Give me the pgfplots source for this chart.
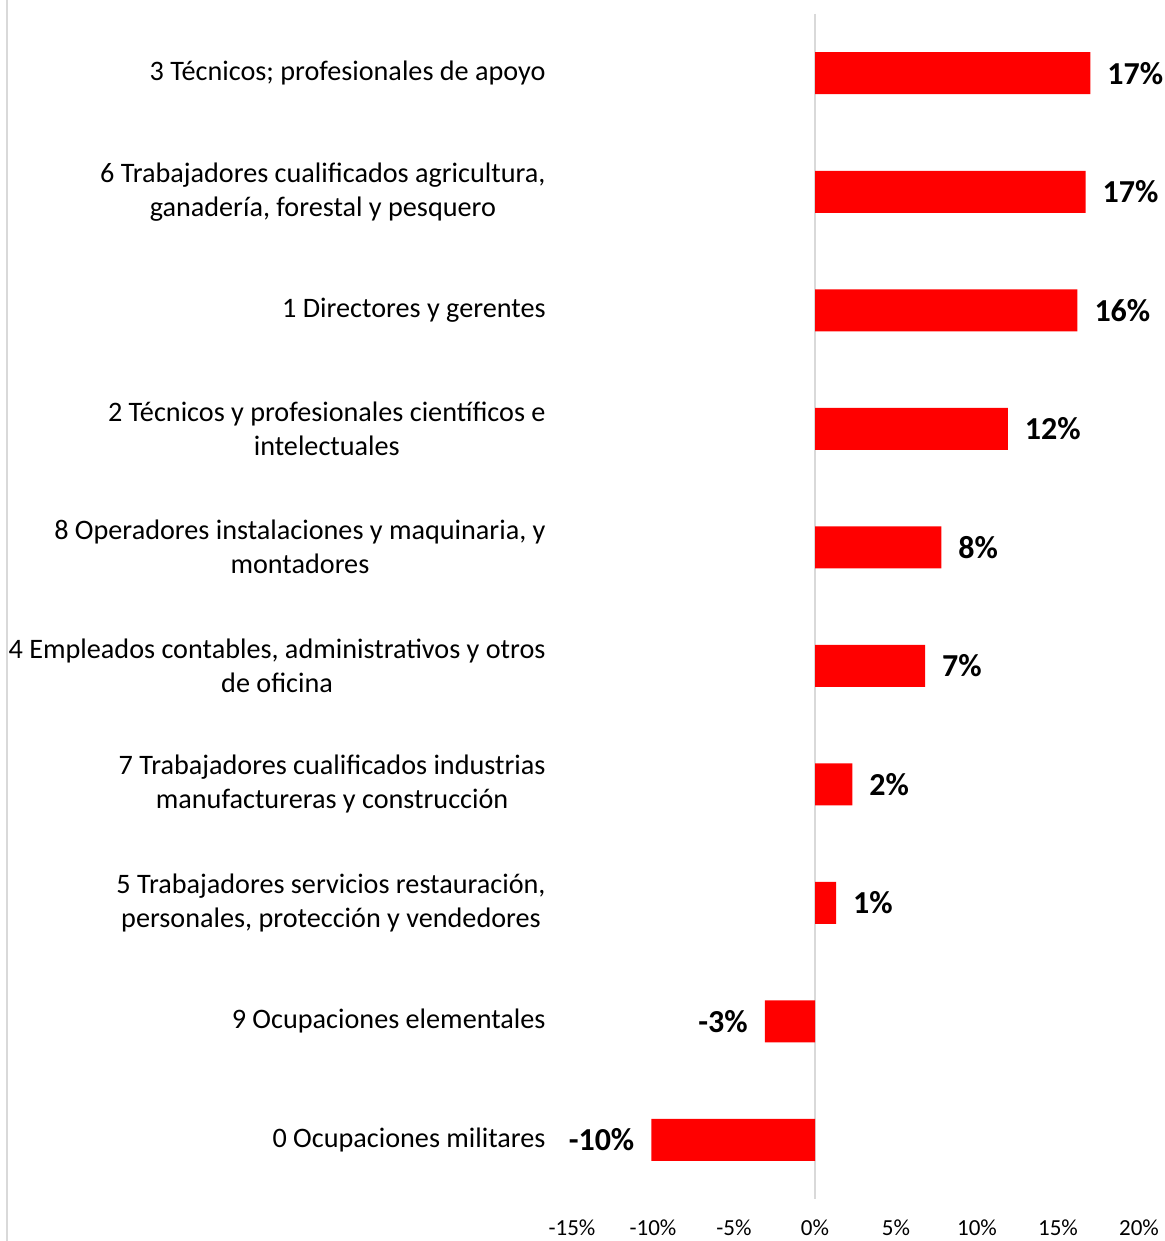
\documentclass[border=0pt]{standalone}
\usepackage{pgfplots}
\pgfplotsset{compat=1.18}
\usepackage{fontspec}
\setmainfont{Carlito}

\definecolor{barred}{RGB}{255,0,0}
\definecolor{linegray}{RGB}{217,217,217}

\begin{document}
\begin{tikzpicture}
  % canvas: 1 px of the reference = 0.5pt
  \path[use as bounding box] (0,0) rectangle (582.5pt,620.5pt);
  \draw[linegray, line width=1pt] (3.25pt,0) -- (3.25pt,620.5pt);
  \begin{axis}[
      at={(286pt,21pt)}, anchor=south west,
      width=283.5pt, height=592.5pt, scale only axis,
      xbar, bar width=21pt, bar shift=0pt,
      xmin=-15, xmax=20,
      ymin=-0.5, ymax=9.5, y dir=reverse,
      axis line style={draw=none},
      major tick length=0pt,
      xtick={-15,-10,-5,0,5,10,15,20},
      xticklabels={-15\%,-10\%,-5\%,0\%,5\%,10\%,15\%,20\%},
      xticklabel style={font=\fontsize{11.5}{14}\selectfont, yshift=-7pt},
      ytick={0,...,9},
      yticklabels={
        {3 Técnicos; profesionales de apoyo},
        {6 Trabajadores cualificados agricultura,\\ganadería, forestal y pesquero},
        {1 Directores y gerentes},
        {2 Técnicos y profesionales científicos e\\intelectuales},
        {8 Operadores instalaciones y maquinaria, y\\montadores},
        {4 Empleados contables, administrativos y otros\\de oficina},
        {7 Trabajadores cualificados industrias\\manufactureras y construcción},
        {5 Trabajadores servicios restauración,\\personales, protección y vendedores},
        {9 Ocupaciones elementales},
        {0 Ocupaciones militares}},
      yticklabel style={font=\fontsize{14.1}{17}\selectfont, align=center, anchor=east, xshift=-9.7pt},
      point meta=explicit symbolic,
      nodes near coords,
      every node near coord/.append style={font=\fontsize{16}{19}\selectfont\bfseries, black},
      clip=false,
    ]
    \draw[linegray, line width=1pt] (axis cs:0,-0.5) -- (axis cs:0,9.5);
    \addplot[fill=barred, draw=none,
      every node near coord/.append style={anchor=west, xshift=5pt}]
      coordinates {
        (17.0,0) [17\%]
        (16.7,1) [17\%]
        (16.2,2) [16\%]
        (11.9,3) [12\%]
        (7.8,4) [8\%]
        (6.8,5) [7\%]
        (2.3,6) [2\%]
        (1.3,7) [1\%]
      };
    \addplot[fill=barred, draw=none,
      every node near coord/.append style={anchor=east, xshift=-5pt}]
      coordinates {
        (-3.1,8) [-3\%]
        (-10.1,9) [-10\%]
      };
  \end{axis}
\end{tikzpicture}
\end{document}
